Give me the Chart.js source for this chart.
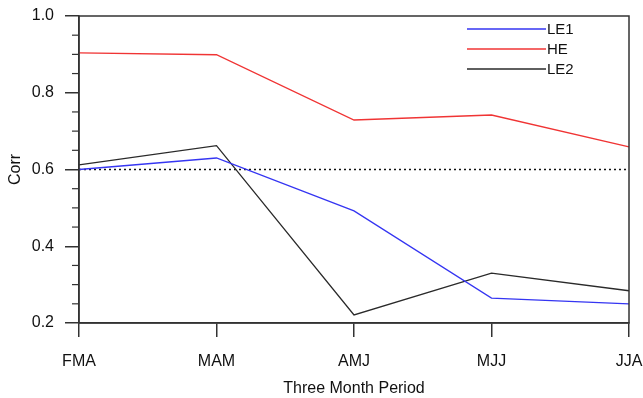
<!DOCTYPE html>
<html>
<head>
<meta charset="utf-8">
<script src="https://cdn.jsdelivr.net/npm/chart.js@4"></script>
<style>
  html, body { margin: 0; padding: 0; background: #fff; }
  #wrap { width: 643px; height: 398px; }
</style>
</head>
<body>
<div id="wrap"><canvas id="myChart" width="643" height="398"></canvas></div>
<script>
// x-axis labels
var periods = ["FMA", "MAM", "AMJ", "MJJ", "JJA"];

// correlations
var le1 = [ 0.600, 0.630, 0.492, 0.265, 0.250 ];
var he  = [ 0.904, 0.899, 0.729, 0.742, 0.659 ];
var le2 = [ 0.612, 0.662, 0.221, 0.330, 0.284 ];

// dotted reference level
var refLevel = 0.6;
var refLine = periods.map(function () { return refLevel; });

var font = "'Liberation Sans', Arial, Helvetica, sans-serif";
var axisColor = "#333";

// legend inside the plot, top right, plus minor ticks and the frame
var ncarStyle = {
    id: "ncarStyle",
    afterDraw: function (chart) {
        var c = chart.ctx;
        var area = chart.chartArea;
        var y = chart.scales.y;

        c.save();
        c.strokeStyle = axisColor;
        c.lineWidth = 1.5;
        c.strokeRect(area.left, area.top, area.right - area.left, area.bottom - area.top);

        // minor ticks every 0.05
        c.lineWidth = 1.2;
        for (var v = 0.25; v < 1.0; v += 0.05) {
            var r = Math.round(v * 100);
            if (r % 20 === 0) continue;
            var py = y.getPixelForValue(r / 100);
            c.beginPath();
            c.moveTo(area.left - 7, py);
            c.lineTo(area.left, py);
            c.stroke();
        }

        // legend
        c.font = "15px " + font;
        c.textBaseline = "middle";
        c.textAlign = "left";
        chart.data.datasets.forEach(function (ds, i) {
            if (ds.hideLegend) return;
            var ly = 29 + i * 20;
            c.strokeStyle = ds.borderColor;
            c.lineWidth = 1.4;
            c.beginPath();
            c.moveTo(467, ly);
            c.lineTo(546, ly);
            c.stroke();
            c.fillStyle = "#111";
            c.fillText(ds.label, 547, ly + 1);
        });
        c.restore();
    }
};

var ctx = document.getElementById("myChart");

var myChart = new Chart(ctx, {
    type: "line",
    data: {
        labels: periods,
        datasets: [
            { data: le1, label: "LE1", borderColor: "#3535f2", borderWidth: 1.3, pointRadius: 0, fill: false, tension: 0 },
            { data: he,  label: "HE",  borderColor: "#f03434", borderWidth: 1.3, pointRadius: 0, fill: false, tension: 0 },
            { data: le2, label: "LE2", borderColor: "#2a2a2a", borderWidth: 1.3, pointRadius: 0, fill: false, tension: 0 },
            { data: refLine, label: "ref", borderColor: "#111", borderWidth: 1.3, borderDash: [2, 3], pointRadius: 0, fill: false, hideLegend: true }
        ]
    },
    options: {
        responsive: false,
        animation: false,
        layout: { padding: { left: 0, right: 14, top: 16, bottom: 0 } },
        plugins: {
            legend: { display: false },
            tooltip: { enabled: false },
            title: { display: false }
        },
        scales: {
            x: {
                type: "category",
                offset: false,
                grid: { drawOnChartArea: false, color: axisColor, lineWidth: 1.5, tickLength: 14 },
                border: { display: true, color: axisColor, width: 1.5 },
                ticks: { color: "#111", font: { family: font, size: 16 }, padding: 15, maxRotation: 0 },
                title: { display: true, text: "Three Month Period", color: "#111", font: { family: font, size: 16 }, padding: { top: 0, bottom: 0 } },
                afterFit: function (s) { s.height = 75; s.paddingLeft = 0; s.paddingRight = 0; }
            },
            y: {
                min: 0.2,
                max: 1.0,
                grid: { drawOnChartArea: false, color: axisColor, lineWidth: 1.5, tickLength: 14 },
                border: { display: true, color: axisColor, width: 1.5 },
                ticks: {
                    stepSize: 0.2,
                    color: "#111",
                    font: { family: font, size: 16 },
                    padding: 11,
                    callback: function (v) { return v.toFixed(1); }
                },
                title: { display: true, text: "Corr", color: "#111", font: { family: font, size: 16 }, padding: { top: 6, bottom: 5 } },
                afterFit: function (s) { s.width = 79; s.paddingTop = 0; s.paddingBottom = 0; }
            }
        }
    },
    plugins: [ncarStyle]
});
</script>
</body>
</html>
